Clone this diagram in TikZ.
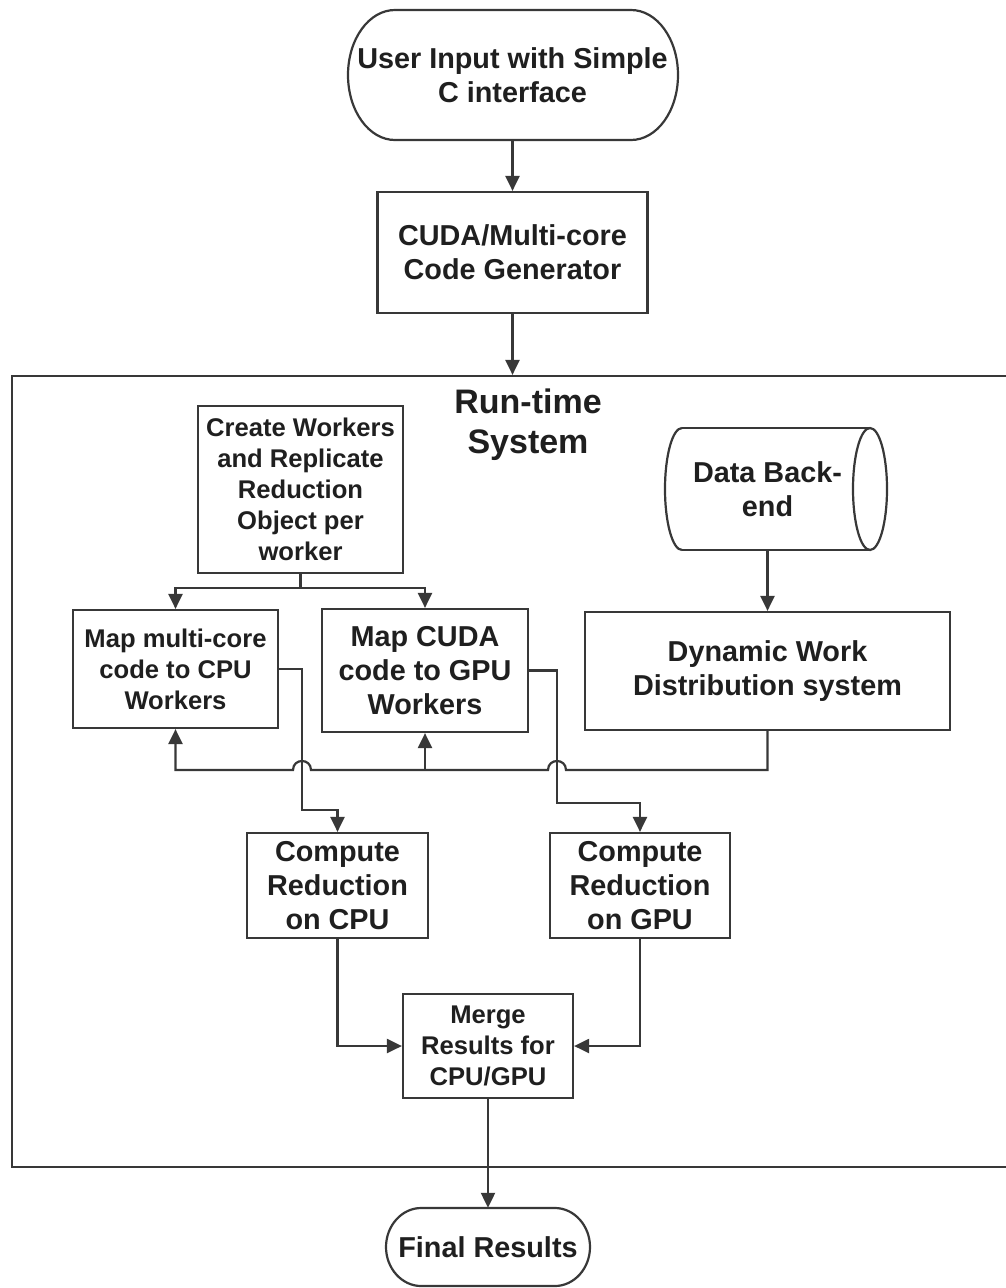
\documentclass[tikz,border=0pt]{standalone}
\usepackage{fontspec}
\setmainfont{Liberation Sans}
\usetikzlibrary{arrows.meta}
\begin{document}
\begin{tikzpicture}[x=1pt,y=-1pt,
  ln/.style={draw=black!78,line width=2.2pt},
  arr/.style={ln,-{Triangle[length=15pt,width=14pt]}},
  bigtxt/.style={font=\bfseries\fontsize{28.8}{34}\selectfont,text=black!88},
  smalltxt/.style={font=\bfseries\fontsize{25.6}{31}\selectfont,text=black!88},
  box/.style={ln,rectangle,align=center,inner sep=0pt,bigtxt},
  sbox/.style={box,smalltxt},
  shapeonly/.style={rectangle,align=center,inner sep=0pt,bigtxt}
]
\useasboundingbox (0,0) rectangle (1005,1288);
\fill[white] (0,0) rectangle (1005,1288);

% run-time system frame
\node[ln,rectangle,inner sep=0pt,minimum width=998pt,minimum height=791pt] (rts) at (511,771.5) {};
\node[align=center,inner sep=0pt,font=\bfseries\fontsize{34}{40}\selectfont,text=black!88] (title) at (528,425) {Run-time\\System};

% user input terminal
\node[shapeonly,minimum width=330pt,minimum height=130pt] (user) at (512.5,75) {User Input with Simple\\C interface};
\draw[ln] (395,10) -- (631,10) .. controls (657,10) and (678,39) .. (678,75)
  .. controls (678,111) and (657,140) .. (631,140) -- (395,140)
  .. controls (369,140) and (348,111) .. (348,75)
  .. controls (348,39) and (369,10) .. (395,10) -- cycle;

\node[box,minimum width=270pt,minimum height=121pt] (cuda) at (512.5,252.5) {CUDA/Multi-core\\Code Generator};

\node[sbox,minimum width=205pt,minimum height=167pt] (create) at (300.5,489.5) {Create Workers\\and Replicate\\Reduction\\Object per\\worker};
\node[sbox,minimum width=205pt,minimum height=118pt] (mapcpu) at (175.5,669) {Map multi-core\\code to CPU\\Workers};
\node[box,minimum width=206pt,minimum height=123pt] (mapgpu) at (425,670.5) {Map CUDA\\code to GPU\\Workers};

% data back-end cylinder
\node[shapeonly,minimum width=222pt,minimum height=122pt] (data) at (767.5,489) {Data Back-\\end};
\draw[ln] (682,428) -- (870,428);
\draw[ln] (682,550) -- (870,550);
\draw[ln] (682,428) .. controls (672.6,428) and (665,455.3) .. (665,489)
  .. controls (665,522.7) and (672.6,550) .. (682,550);
\draw[ln] (870,489) ellipse [x radius=17pt, y radius=61pt];

\node[box,minimum width=365pt,minimum height=118pt] (dyn) at (767.5,671) {Dynamic Work\\Distribution system};

\node[box,minimum width=181pt,minimum height=105pt] (compcpu) at (337.5,885.5) {Compute\\Reduction\\on CPU};
\node[box,minimum width=180pt,minimum height=105pt] (compgpu) at (640,885.5) {Compute\\Reduction\\on GPU};
\node[sbox,minimum width=170pt,minimum height=104pt] (merge) at (488,1046) {Merge\\Results for\\CPU/GPU};

% final terminal
\node[shapeonly,minimum width=204pt,minimum height=78pt] (final) at (488,1247) {Final Results};
\draw[ln] (421,1208) -- (555,1208) .. controls (574,1208) and (590,1225.5) .. (590,1247)
  .. controls (590,1268.5) and (574,1286) .. (555,1286) -- (421,1286)
  .. controls (402,1286) and (386,1268.5) .. (386,1247)
  .. controls (386,1225.5) and (402,1208) .. (421,1208) -- cycle;

% connectors
\draw[arr] (user.south) -- (cuda.north);
\draw[arr] (cuda.south) -- (cuda.south |- rts.north);

\coordinate (cs) at (300.5,588);
\draw[ln] (create.south) -- (cs);
\draw[arr] (cs) -| (mapcpu.north);
\draw[arr] (cs) -| (mapgpu.north);

\draw[arr] (data.south) -- (dyn.north);

\coordinate (db) at (767.5,770);
\draw[arr] (dyn.south) -- (db) -- (566,770) .. controls (566,758) and (548,758) .. (548,770)
  -- (311,770) .. controls (311,758) and (293,758) .. (293,770)
  -- (mapcpu.south |- db) -- (mapcpu.south);
\draw[arr] (mapgpu.south |- db) -- (mapgpu.south);

\coordinate (cpuv) at (302,810);
\coordinate (gpuv) at (557,803);
\draw[arr] (mapcpu.east) -| (cpuv) -| (compcpu.north);
\draw[arr] (mapgpu.east) -| (gpuv) -| (compgpu.north);

\draw[arr] (compcpu.south) |- (merge.west);
\draw[arr] (compgpu.south) |- (merge.east);
\draw[arr] (merge.south) -- (final.north);
\end{tikzpicture}
\end{document}
